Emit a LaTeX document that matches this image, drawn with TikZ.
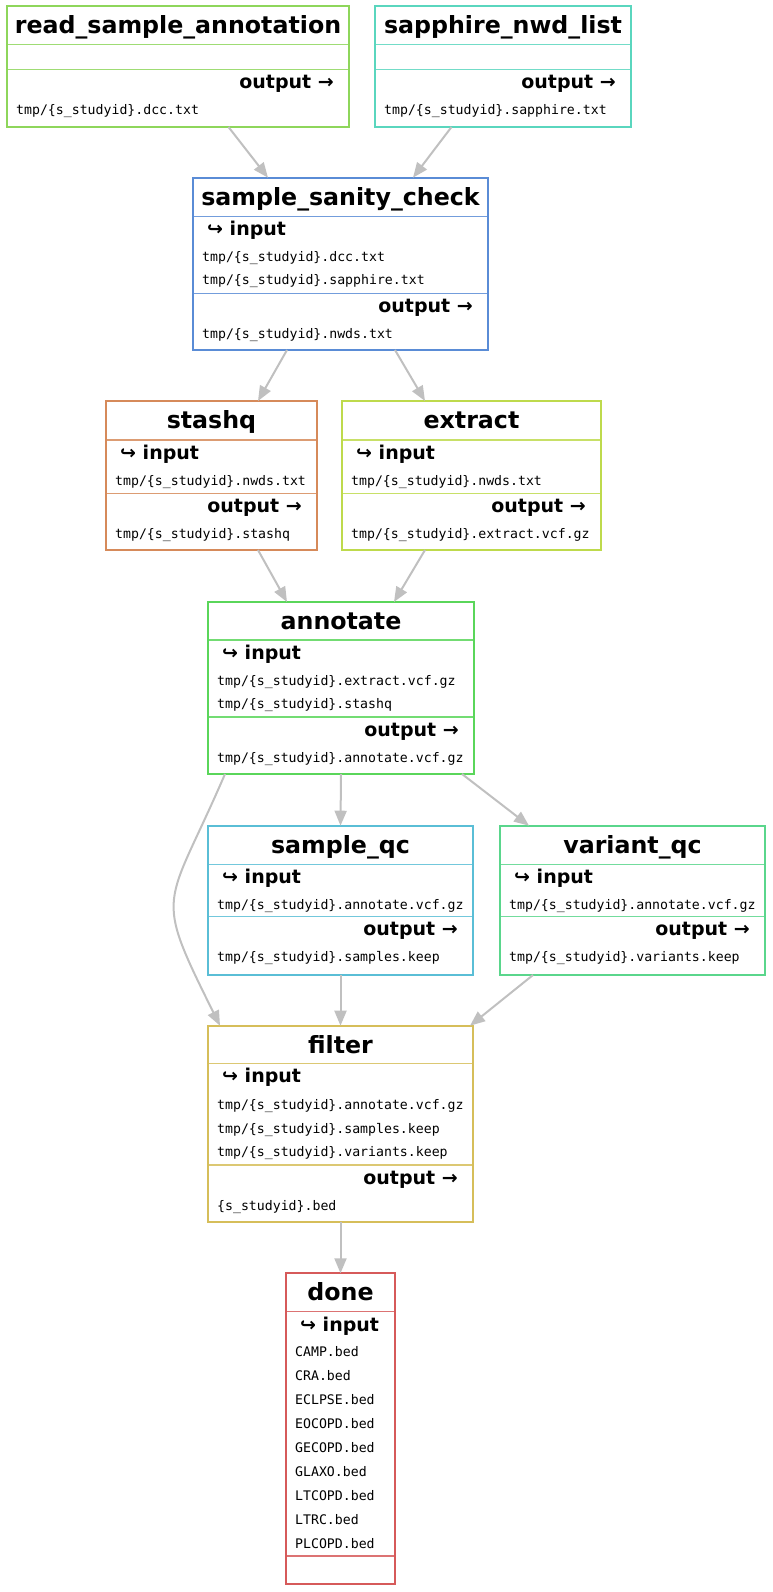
\documentclass[tikz,border=0pt]{standalone}
\usepackage{fontspec}
\setsansfont{DejaVu Sans}
\setmonofont{DejaVu Sans Mono}
\usetikzlibrary{fit,arrows.meta}
\definecolor{crsa}{RGB}{142,214,91}
\definecolor{csnl}{RGB}{90,214,190}
\definecolor{cssc}{RGB}{90,140,214}
\definecolor{cstash}{RGB}{214,138,90}
\definecolor{cextr}{RGB}{190,218,76}
\definecolor{cannot}{RGB}{90,214,90}
\definecolor{csqc}{RGB}{90,190,214}
\definecolor{cvqc}{RGB}{90,214,140}
\definecolor{cfilt}{RGB}{214,190,90}
\definecolor{cdone}{RGB}{214,90,90}
\definecolor{edgegray}{RGB}{192,192,192}
\newcommand\myttl{\fontsize{23.7}{28}\selectfont\sffamily\bfseries}
\newcommand\mylbl{\fontsize{19}{23}\selectfont\sffamily\bfseries}
\newcommand\myfil{\fontsize{13.2}{16}\selectfont\ttfamily}
\tikzset{
  tbox/.style={rectangle, line width=2.2pt, inner sep=0pt, outer sep=0pt},
  sepline/.style={line width=1.3pt},
  ttl/.style={font=\myttl, anchor=base, inner sep=0pt},
  inlbl/.style={font=\mylbl, anchor=base west, inner sep=0pt},
  outlbl/.style={font=\mylbl, anchor=base east, inner sep=0pt},
  fil/.style={font=\myfil, anchor=base west, inner sep=0pt},
  edge/.style={draw=edgegray, line width=2pt, -{Triangle[length=15pt,width=12pt]}},
}
% name, colour, L, R, T, S1, S2, B, title
\newcommand\taskbox[9]{%
  \draw[sepline, draw=#2!85] (#3,#6) -- (#4,#6);
  \draw[sepline, draw=#2!85] (#3,#7) -- (#4,#7);
  \node[tbox, draw=#2, fit={(#3,#5) (#4,#8)}] (#1) {};
  \node[ttl] (#1-title) at ({(#3+#4)/2},{#5+27.3}) {#9};
}
\begin{document}
\begin{tikzpicture}[x=1pt,y=-1pt]
\useasboundingbox (0,0) rectangle (772,1592);

% read_sample_annotation
\taskbox{rsa}{crsa}{7}{349}{6.3}{44.8}{69.3}{127}{read\_sample\_annotation}
\node[outlbl] (rsa-out) at (334,88.3) {output →};
\node[fil] (rsa-o1) at (16,114.3) {tmp/\{s\_studyid\}.dcc.txt};

% sapphire_nwd_list
\taskbox{snl}{csnl}{375}{631}{6.3}{44.8}{69.3}{127}{sapphire\_nwd\_list}
\node[outlbl] (snl-out) at (616,88.3) {output →};
\node[fil] (snl-o1) at (384,114.3) {tmp/\{s\_studyid\}.sapphire.txt};

% sample_sanity_check
\taskbox{ssc}{cssc}{193}{488}{177.7}{216.3}{293.3}{350}{sample\_sanity\_check}
\node[inlbl] (ssc-in) at (207,235.8) {↪ input};
\node[fil] (ssc-i1) at (202,261.3) {tmp/\{s\_studyid\}.dcc.txt};
\node[fil] (ssc-i2) at (202,284.8) {tmp/\{s\_studyid\}.sapphire.txt};
\node[outlbl] (ssc-out) at (473,312.3) {output →};
\node[fil] (ssc-o1) at (202,338.3) {tmp/\{s\_studyid\}.nwds.txt};

% stashq
\taskbox{stashq}{cstash}{106}{317}{401}{440}{493.3}{550}{stashq}
\node[inlbl] (stashq-in) at (120,459.5) {↪ input};
\node[fil] (stashq-i1) at (115,485) {tmp/\{s\_studyid\}.nwds.txt};
\node[outlbl] (stashq-out) at (302,512.3) {output →};
\node[fil] (stashq-o1) at (115,538.3) {tmp/\{s\_studyid\}.stashq};

% extract
\taskbox{extract}{cextr}{342}{601}{401}{440}{493.3}{550}{extract}
\node[inlbl] (extract-in) at (356,459.5) {↪ input};
\node[fil] (extract-i1) at (351,485) {tmp/\{s\_studyid\}.nwds.txt};
\node[outlbl] (extract-out) at (586,512.3) {output →};
\node[fil] (extract-o1) at (351,538.3) {tmp/\{s\_studyid\}.extract.vcf.gz};

% annotate
\taskbox{annotate}{cannot}{208}{474}{602}{640}{717}{774}{annotate}
\node[inlbl] (annotate-in) at (222,659.5) {↪ input};
\node[fil] (annotate-i1) at (217,685) {tmp/\{s\_studyid\}.extract.vcf.gz};
\node[fil] (annotate-i2) at (217,708.7) {tmp/\{s\_studyid\}.stashq};
\node[outlbl] (annotate-out) at (459,736) {output →};
\node[fil] (annotate-o1) at (217,762.5) {tmp/\{s\_studyid\}.annotate.vcf.gz};

% sample_qc
\taskbox{sqc}{csqc}{208}{473}{825.7}{864.3}{916.7}{975}{sample\_qc}
\node[inlbl] (sqc-in) at (222,883.8) {↪ input};
\node[fil] (sqc-i1) at (217,909.3) {tmp/\{s\_studyid\}.annotate.vcf.gz};
\node[outlbl] (sqc-out) at (458,935.7) {output →};
\node[fil] (sqc-o1) at (217,961.7) {tmp/\{s\_studyid\}.samples.keep};

% variant_qc
\taskbox{vqc}{cvqc}{500}{765}{825.7}{864.3}{916.7}{975}{variant\_qc}
\node[inlbl] (vqc-in) at (514,883.8) {↪ input};
\node[fil] (vqc-i1) at (509,909.3) {tmp/\{s\_studyid\}.annotate.vcf.gz};
\node[outlbl] (vqc-out) at (750,935.7) {output →};
\node[fil] (vqc-o1) at (509,961.7) {tmp/\{s\_studyid\}.variants.keep};

% filter
\taskbox{filter}{cfilt}{208}{473}{1025.7}{1063.3}{1165}{1221.7}{filter}
\node[inlbl] (filter-in) at (222,1082.8) {↪ input};
\node[fil] (filter-i1) at (217,1109.3) {tmp/\{s\_studyid\}.annotate.vcf.gz};
\node[fil] (filter-i2) at (217,1133.1) {tmp/\{s\_studyid\}.samples.keep};
\node[fil] (filter-i3) at (217,1156.9) {tmp/\{s\_studyid\}.variants.keep};
\node[outlbl] (filter-out) at (458,1184) {output →};
\node[fil] (filter-o1) at (217,1210.5) {\{s\_studyid\}.bed};

% done
\taskbox{done}{cdone}{286}{395}{1273.3}{1311.7}{1556}{1584.3}{done}
\node[inlbl] (done-in) at (300,1331) {↪ input};
\node[fil] (done-i1) at (295,1356.7) {CAMP.bed};
\node[fil] (done-i2) at (295,1380.65) {CRA.bed};
\node[fil] (done-i3) at (295,1404.6) {ECLPSE.bed};
\node[fil] (done-i4) at (295,1428.55) {EOCOPD.bed};
\node[fil] (done-i5) at (295,1452.5) {GECOPD.bed};
\node[fil] (done-i6) at (295,1476.45) {GLAXO.bed};
\node[fil] (done-i7) at (295,1500.4) {LTCOPD.bed};
\node[fil] (done-i8) at (295,1524.35) {LTRC.bed};
\node[fil] (done-i9) at (295,1548.3) {PLCOPD.bed};

% connectors
\draw[edge] ([xshift=50.5pt]rsa.south) -- ([xshift=-72.5pt]ssc.north);
\draw[edge] ([xshift=-51.5pt]snl.south) -- ([xshift=72.5pt]ssc.north);
\draw[edge] ([xshift=-53.5pt]ssc.south) -- ([xshift=46.5pt]stashq.north);
\draw[edge] ([xshift=54.5pt]ssc.south) -- ([xshift=-46.5pt]extract.north);
\draw[edge] ([xshift=46.5pt]stashq.south) -- ([xshift=-54pt]annotate.north);
\draw[edge] ([xshift=-46.5pt]extract.south) -- ([xshift=53pt]annotate.north);
\draw[edge] (annotate.south) -- (sqc.north);
\draw[edge] ([xshift=121pt]annotate.south) -- ([xshift=-103.5pt]vqc.north);
\draw[edge] ([xshift=-116pt]annotate.south) .. controls (166,911) and (152,889) .. ([xshift=-120.5pt]filter.north);
\draw[edge] (sqc.south) -- (filter.north);
\draw[edge] ([xshift=-99.5pt]vqc.south) -- ([xshift=129.5pt]filter.north);
\draw[edge] (filter.south) -- (done.north);
\end{tikzpicture}
\end{document}
